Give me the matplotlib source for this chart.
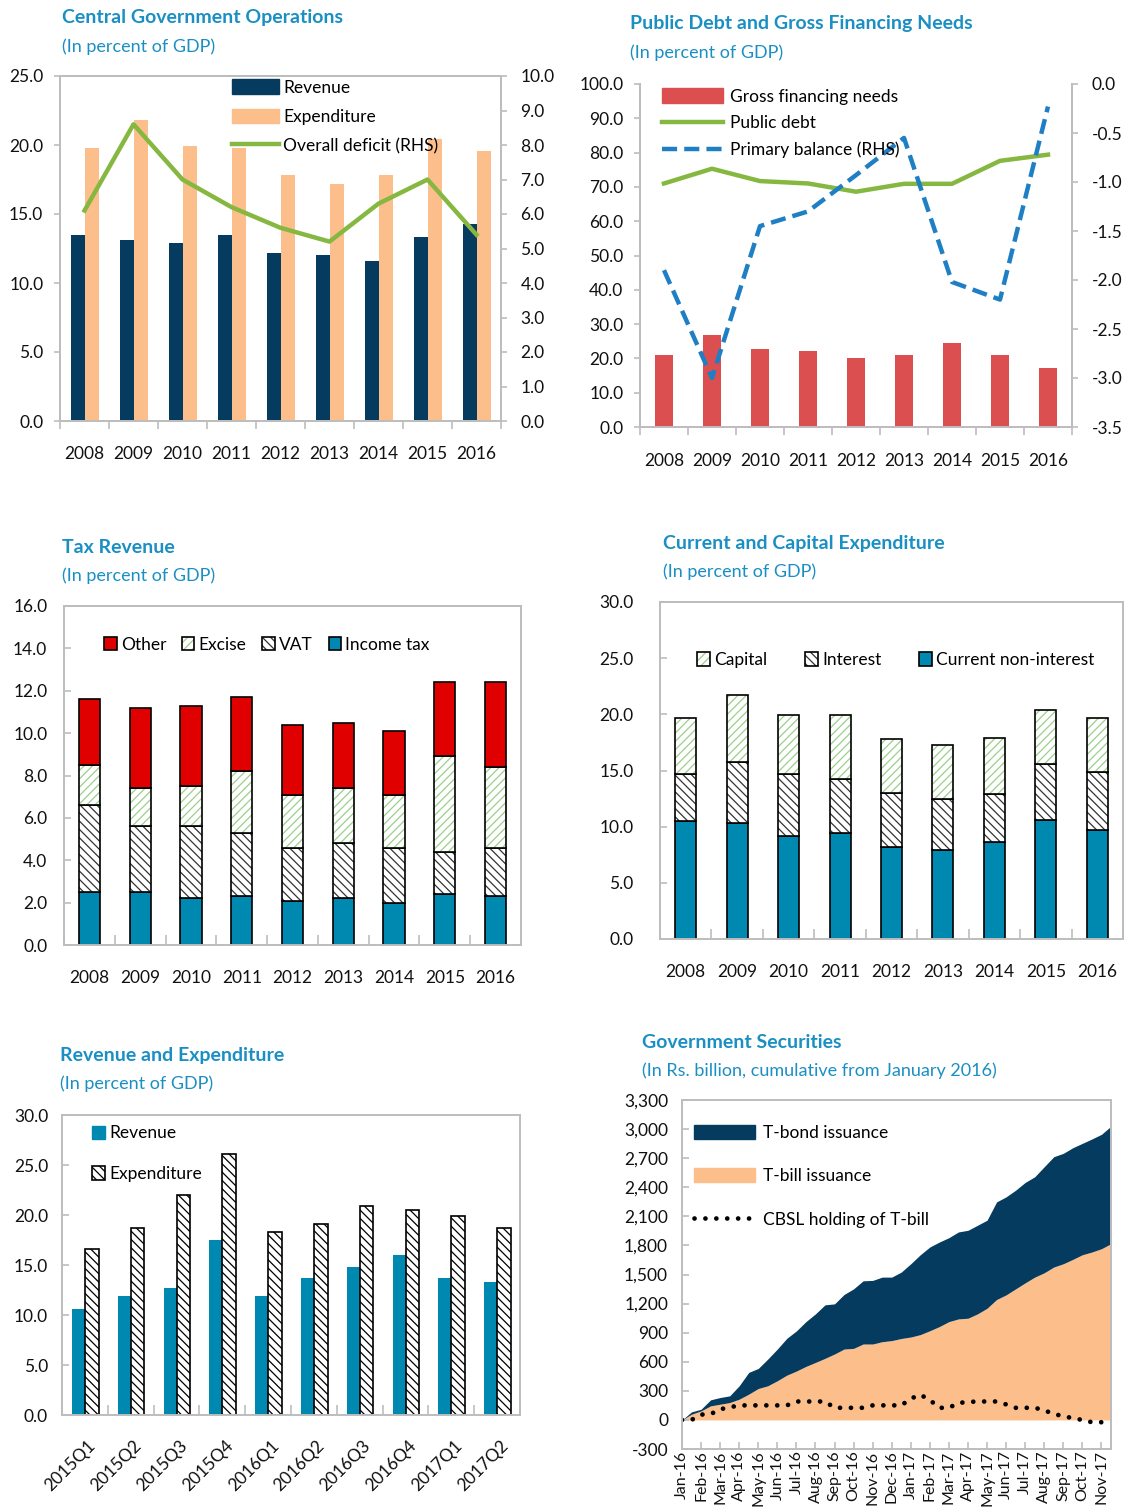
import numpy as np
import matplotlib.pyplot as plt
from matplotlib.patches import Patch
from matplotlib.lines import Line2D
from matplotlib.legend_handler import HandlerTuple

plt.rcParams['font.family'] = ['Lato', 'DejaVu Sans']
plt.rcParams['hatch.linewidth'] = 0.9

W, H = 1127, 1509

# ---- data ----
years = ['2008', '2009', '2010', '2011', '2012', '2013', '2014', '2015', '2016']

# Central Government Operations
cgo_revenue = [13.5, 13.1, 12.9, 13.5, 12.2, 12.0, 11.6, 13.3, 14.3]
cgo_expenditure = [19.8, 21.8, 19.9, 19.8, 17.8, 17.2, 17.8, 20.4, 19.6]
cgo_deficit = [6.1, 8.6, 7.0, 6.2, 5.6, 5.2, 6.3, 7.0, 5.4]

# Public debt and gross financing needs
gfn = [20.9, 26.9, 22.7, 22.1, 20.2, 20.9, 24.5, 20.9, 17.2]
public_debt = [71.0, 75.3, 71.7, 71.0, 68.6, 70.9, 70.9, 77.6, 79.4]
primary_balance = [-1.9, -3.0, -1.45, -1.3, -0.93, -0.55, -2.02, -2.2, -0.23]

# Tax revenue
income_tax = [2.5, 2.5, 2.2, 2.3, 2.1, 2.2, 2.0, 2.4, 2.3]
vat = [4.1, 3.1, 3.4, 3.0, 2.5, 2.6, 2.6, 2.0, 2.3]
excise = [1.9, 1.8, 1.9, 2.9, 2.5, 2.6, 2.5, 4.5, 3.8]
other_tax = [3.1, 3.8, 3.8, 3.5, 3.3, 3.1, 3.0, 3.5, 4.0]

# Current and capital expenditure
current_nonint = [10.5, 10.3, 9.2, 9.4, 8.2, 7.9, 8.6, 10.6, 9.7]
interest = [4.2, 5.5, 5.5, 4.8, 4.8, 4.6, 4.3, 5.0, 5.2]
capital = [5.0, 5.9, 5.2, 5.7, 4.8, 4.8, 5.0, 4.8, 4.8]

# Quarterly revenue and expenditure
quarters = ['2015Q1', '2015Q2', '2015Q3', '2015Q4', '2016Q1', '2016Q2',
            '2016Q3', '2016Q4', '2017Q1', '2017Q2']
q_revenue = [10.6, 11.9, 12.7, 17.5, 11.9, 13.7, 14.8, 16.0, 13.7, 13.3]
q_expenditure = [16.6, 18.7, 22.0, 26.1, 18.3, 19.1, 20.9, 20.5, 19.9, 18.7]

# Government securities (cumulative, half-month readings)
months = ['Jan-16', 'Feb-16', 'Mar-16', 'Apr-16', 'May-16', 'Jun-16', 'Jul-16',
          'Aug-16', 'Sep-16', 'Oct-16', 'Nov-16', 'Dec-16', 'Jan-17', 'Feb-17',
          'Mar-17', 'Apr-17', 'May-17', 'Jun-17', 'Jul-17', 'Aug-17', 'Sep-17',
          'Oct-17', 'Nov-17']
tbill_cum = [0, 59, 93, 145, 162, 179, 214, 266, 324, 352, 404, 462, 504, 552,
             593, 635, 680, 731, 738, 783, 783, 807, 818, 840, 855, 880, 920,
             963, 1014, 1042, 1049, 1094, 1152, 1242, 1290, 1352, 1414, 1473,
             1518, 1577, 1611, 1656, 1704, 1732, 1766, 1818]
total_cum = [0, 83, 110, 207, 231, 248, 352, 490, 531, 628, 731, 842, 918, 1014,
             1094, 1187, 1197, 1294, 1352, 1435, 1439, 1473, 1473, 1525, 1611,
             1704, 1784, 1835, 1880, 1939, 1956, 2008, 2060, 2249, 2301, 2370,
             2450, 2508, 2612, 2715, 2750, 2808, 2853, 2898, 2946, 3030]
cbsl_tbill = [0, 0, 55, 60, 110, 130, 150, 150, 150, 150, 150, 150, 190, 190,
              190, 190, 125, 125, 125, 125, 150, 150, 150, 150, 220, 260, 205,
              125, 125, 175, 185, 190, 190, 190, 160, 125, 125, 125, 100, 60,
              40, 17, 0, -24, -24, -24]

# ---- styles ----
TEAL = '#1a8fc3'
NAVY = '#053b5f'
PEACH = '#fcbf8c'
GREEN = '#86b841'
RED = '#dc4f50'
BLUE = '#1f7fc4'
TAXRED = '#e00000'
CYAN = '#0089b0'
HGREEN = '#9ccf8c'
FRAME = '#bdbdbd'
FS = 12.5

fig = plt.figure(figsize=(W / 100, H / 100), dpi=100)


def add_ax(l, t, r, b):
    return fig.add_axes([l / W, 1 - b / H, (r - l) / W, (b - t) / H])


def frame(ax):
    for s in ax.spines.values():
        s.set_color(FRAME)
        s.set_linewidth(1.4)
    ax.tick_params(colors=FRAME, labelcolor='#111111', labelsize=FS, width=1.2)


def titles(x, y, main, sub):
    fig.text(x / W, 1 - y / H, main, color=TEAL, fontsize=14,
             fontweight='bold', va='center')
    fig.text(x / W, 1 - (y + 29) / H, sub, color=TEAL, fontsize=13, va='center')


def cat_ticks(ax, n, direction, length, pad):
    ax.set_xlim(-0.5, n - 0.5)
    ax.set_xticks(np.arange(n))
    ax.set_xticks(np.arange(n + 1) - 0.5, minor=True)
    ax.tick_params(axis='x', which='major', length=0, pad=pad)
    ax.tick_params(axis='x', which='minor', direction=direction, length=length,
                   color=FRAME, width=1.2)


def hatched(ax, x, h, bottom, width, hatch, hcolor):
    ax.bar(x, h, width, bottom=bottom, color='white', edgecolor=hcolor,
           hatch=hatch, linewidth=0)
    ax.bar(x, h, width, bottom=bottom, fill=False, edgecolor='black', linewidth=1.2)


def hatch_handle(hatch, hcolor):
    return (Patch(facecolor='white', edgecolor=hcolor, hatch=hatch, linewidth=0),
            Patch(fill=False, edgecolor='black', linewidth=1.2))


x9 = np.arange(len(years))

# ---- panel 1: Central Government Operations ----
titles(62, 18, 'Central Government Operations', '(In percent of GDP)')
ax1 = add_ax(60, 76, 501, 421)
ax1.bar(x9 - 0.135, cgo_revenue, 0.27, color=NAVY, label='Revenue')
ax1.bar(x9 + 0.145, cgo_expenditure, 0.29, color=PEACH, label='Expenditure')
ax1.set_ylim(0, 25)
ax1.set_yticks(np.arange(0, 26, 5))
ax1.set_yticklabels([f'{v:.1f}' for v in np.arange(0, 26, 5)])
frame(ax1)
ax1.tick_params(axis='y', direction='out', length=4, pad=8)
cat_ticks(ax1, 9, 'out', 6, 18)
ax1.set_xticklabels(years)
ax1r = ax1.twinx()
ax1r.plot(x9, cgo_deficit, color=GREEN, lw=3.2, label='Overall deficit (RHS)')
ax1r.set_ylim(0, 10)
ax1r.set_yticks(np.arange(0, 11, 1))
ax1r.set_yticklabels([f'{v:.1f}' for v in np.arange(0, 11, 1)])
frame(ax1r)
ax1r.tick_params(axis='y', direction='out', length=4, pad=10)
h1 = [Patch(color=NAVY), Patch(color=PEACH), Line2D([], [], color=GREEN, lw=3.2)]
ax1r.legend(h1, ['Revenue', 'Expenditure', 'Overall deficit (RHS)'],
            loc='upper left', bbox_to_anchor=((232 - 60) / 441, 0.99),
            frameon=False, fontsize=FS, borderpad=0, borderaxespad=0,
            handlelength=2.7, handleheight=0.9, handletextpad=0.25,
            labelspacing=0.75)

# ---- panel 2: Public Debt and Gross Financing Needs ----
titles(630, 24, 'Public Debt and Gross Financing Needs', '(In percent of GDP)')
ax2 = add_ax(640, 84, 1072, 427)
ax2.bar(x9, gfn, 0.38, color=RED)
ax2.plot(x9, public_debt, color=GREEN, lw=3.2)
ax2.set_ylim(0, 100)
ax2.set_yticks(np.arange(0, 101, 10))
ax2.set_yticklabels([f'{v:.1f}' for v in np.arange(0, 101, 10)])
frame(ax2)
ax2.spines['top'].set_visible(False)
ax2.tick_params(axis='y', direction='out', length=4, pad=8)
cat_ticks(ax2, 9, 'out', 6, 19)
ax2.set_xticklabels(years)
ax2r = ax2.twinx()
ax2r.plot(x9, primary_balance, color=BLUE, lw=3.2, linestyle=(0, (3.4, 1.6)))
ax2r.set_ylim(-3.5, 0)
ax2r.set_yticks(np.arange(-3.5, 0.01, 0.5))
ax2r.set_yticklabels([f'{v:.1f}' for v in np.arange(-3.5, 0.01, 0.5)])
frame(ax2r)
ax2r.spines['top'].set_visible(False)
ax2r.tick_params(axis='y', direction='out', length=4, pad=10)
h2 = [Patch(color=RED), Line2D([], [], color=GREEN, lw=3.2),
      Line2D([], [], color=BLUE, lw=3.2, linestyle=(0, (3.4, 1.6)))]
ax2r.legend(h2, ['Gross financing needs', 'Public debt', 'Primary balance (RHS)'],
            loc='upper left', bbox_to_anchor=((662 - 640) / 432, 0.987),
            frameon=False, fontsize=FS, borderpad=0, borderaxespad=0,
            handlelength=3.5, handleheight=0.9, handletextpad=0.4,
            labelspacing=0.6)

# ---- panel 3: Tax Revenue ----
titles(62, 547, 'Tax Revenue', '(In percent of GDP)')
ax3 = add_ax(64, 606, 521, 945)
w3 = 0.42
b = np.zeros(9)
ax3.bar(x9, income_tax, w3, color=CYAN, edgecolor='black', linewidth=1.2)
b += income_tax
hatched(ax3, x9, vat, b, w3, '\\\\\\\\', '#333333')
b += vat
hatched(ax3, x9, excise, b, w3, '////', HGREEN)
b += excise
ax3.bar(x9, other_tax, w3, bottom=b, color=TAXRED, edgecolor='black', linewidth=1.2)
ax3.set_ylim(0, 16)
ax3.set_yticks(np.arange(0, 17, 2))
ax3.set_yticklabels([f'{v:.1f}' for v in np.arange(0, 17, 2)])
frame(ax3)
ax3.tick_params(axis='y', direction='in', length=5, pad=12)
cat_ticks(ax3, 9, 'in', 7, 18)
ax3.set_xticklabels(years)
h3 = [Patch(facecolor=TAXRED, edgecolor='black', linewidth=1.2),
      hatch_handle('////', HGREEN), hatch_handle('\\\\\\\\', '#333333'),
      Patch(facecolor=CYAN, edgecolor='black', linewidth=1.2)]
ax3.legend(h3, ['Other', 'Excise', 'VAT', 'Income tax'], ncol=4,
           handler_map={tuple: HandlerTuple(ndivide=1, pad=0)},
           loc='upper left', bbox_to_anchor=((104 - 64) / 457, 0.91),
           frameon=False, fontsize=FS, borderpad=0, borderaxespad=0,
           handlelength=0.72, handleheight=0.85, handletextpad=0.25,
           columnspacing=0.9)

# ---- panel 4: Current and Capital Expenditure ----
titles(663, 543, 'Current and Capital Expenditure', '(In percent of GDP)')
ax4 = add_ax(660, 602, 1123, 939)
w4 = 0.41
b = np.zeros(9)
ax4.bar(x9, current_nonint, w4, color=CYAN, edgecolor='black', linewidth=1.2)
b += current_nonint
hatched(ax4, x9, interest, b, w4, '\\\\\\\\', '#333333')
b += interest
hatched(ax4, x9, capital, b, w4, '////', HGREEN)
ax4.set_ylim(0, 30)
ax4.set_yticks(np.arange(0, 31, 5))
ax4.set_yticklabels([f'{v:.1f}' for v in np.arange(0, 31, 5)])
frame(ax4)
ax4.tick_params(axis='y', direction='in', length=5, pad=19)
cat_ticks(ax4, 9, 'in', 7, 18)
ax4.set_xticklabels(years)
h4 = [hatch_handle('////', HGREEN), hatch_handle('\\\\\\\\', '#333333'),
      Patch(facecolor=CYAN, edgecolor='black', linewidth=1.2)]
ax4.legend(h4, ['Capital', 'Interest', 'Current non-interest'], ncol=3,
           handler_map={tuple: HandlerTuple(ndivide=1, pad=0)},
           loc='upper left', bbox_to_anchor=((697 - 660) / 463, 0.852),
           frameon=False, fontsize=FS, borderpad=0, borderaxespad=0,
           handlelength=0.72, handleheight=0.85, handletextpad=0.25,
           columnspacing=2.2)

# ---- panel 5: Revenue and Expenditure (quarterly) ----
titles(60, 1055, 'Revenue and Expenditure', '(In percent of GDP)')
ax5 = add_ax(62, 1115, 520, 1415)
x10 = np.arange(len(quarters))
ax5.bar(x10 - 0.14, q_revenue, 0.28, color=CYAN)
ax5.bar(x10 + 0.15, q_expenditure, 0.3, color='white', edgecolor='black',
        hatch='\\\\\\\\', linewidth=1.2)
ax5.set_ylim(0, 30)
ax5.set_yticks(np.arange(0, 31, 5))
ax5.set_yticklabels([f'{v:.1f}' for v in np.arange(0, 31, 5)])
frame(ax5)
ax5.tick_params(axis='y', direction='in', length=5, pad=10)
cat_ticks(ax5, 10, 'in', 7, 20)
ax5.set_xticks(x10 + 0.18)
ax5.set_xticklabels(quarters, rotation=45, ha='right', va='center',
                    rotation_mode='anchor')
h5 = [Patch(color=CYAN), Patch(facecolor='white', edgecolor='black',
                               hatch='\\\\\\\\', linewidth=1.2)]
ax5.legend(h5, ['Revenue', 'Expenditure'],
           loc='upper left', bbox_to_anchor=((92 - 62) / 458, 0.965),
           frameon=False, fontsize=FS, borderpad=0, borderaxespad=0,
           handlelength=0.72, handleheight=0.85, handletextpad=0.3,
           labelspacing=1.4)

# ---- panel 6: Government Securities ----
titles(642, 1042, 'Government Securities',
       '(In Rs. billion, cumulative from January 2016)')
ax6 = add_ax(682, 1100, 1111, 1449)
xi = np.arange(len(total_cum))
ax6.fill_between(xi, 0, tbill_cum, color=PEACH, lw=0)
ax6.fill_between(xi, tbill_cum, total_cum, color=NAVY, lw=0)
dots = (0, (0.01, 2.3))
ax6.plot(xi, cbsl_tbill, color='black', lw=3.4, linestyle=dots,
         dash_capstyle='round')
ax6.set_xlim(0, len(total_cum) - 1)
ax6.set_ylim(-300, 3300)
yt6 = np.arange(-300, 3301, 300)
ax6.set_yticks(yt6)
ax6.set_yticklabels([f'{v:,}' for v in yt6])
frame(ax6)
ax6.tick_params(axis='y', direction='in', length=5, pad=10)
ax6.set_xticks(np.arange(0, 2 * len(months), 2))
ax6.set_xticklabels(months, rotation=90, fontsize=11.5)
ax6.tick_params(axis='x', direction='in', length=5, pad=1)
h6 = [Patch(color=NAVY), Patch(color=PEACH),
      Line2D([], [], color='black', lw=3.4, linestyle=dots, dash_capstyle='round')]
ax6.legend(h6, ['T-bond issuance', 'T-bill issuance', 'CBSL holding of T-bill'],
           loc='upper left', bbox_to_anchor=((694 - 682) / 429, 0.928),
           frameon=False, fontsize=FS, borderpad=0, borderaxespad=0,
           handlelength=3.5, handleheight=0.85, handletextpad=0.5,
           labelspacing=1.57)

fig.savefig('out.png', dpi=100)
